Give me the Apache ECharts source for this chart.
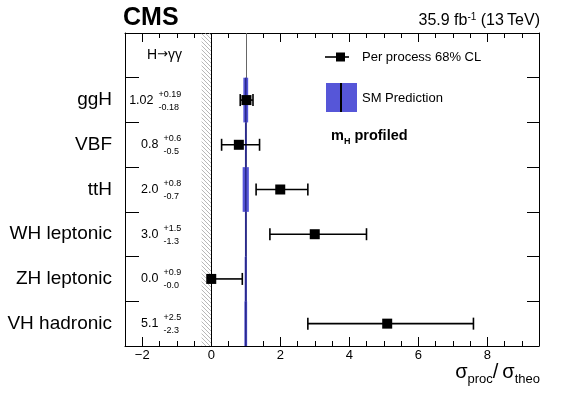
<!DOCTYPE html>
<html>
<head>
<meta charset="utf-8">
<script src="https://cdn.jsdelivr.net/npm/echarts@6/dist/echarts.min.js"></script>
<style>
  html, body { margin: 0; padding: 0; background: #fff; }
  #chart { width: 581px; height: 394px; }
</style>
</head>
<body>
<div id="chart"></div>
<script>
// data
const categories = ['ggH', 'VBF', 'ttH', 'WH leptonic', 'ZH leptonic', 'VH hadronic']
const bestFit = [1.02, 0.8, 2.0, 3.0, 0.0, 5.1]
const errUp = [0.19, 0.6, 0.8, 1.5, 0.9, 2.5]
const errDown = [0.18, 0.5, 0.7, 1.3, 0.0, 2.3]
const digits = [2, 1, 1, 1, 1, 1]
const smValue = 1
const smUnc = [0.07, 0.02, 0.09, 0.02, 0.03, 0.04]
const xMajorTicks = [-2, 0, 2, 4, 6, 8]

// first row of the y axis is the empty header row (H→γγ)
const rows = [''].concat(categories)

const FONT = '"Liberation Sans", Arial, Helvetica, sans-serif'
const BAND = '#5656d8'
const SM_LINE = '#2a2a8c'
const HATCH_FROM = -0.28
const LABEL_RIGHT = -0.87

const measureCtx = document.createElement('canvas').getContext('2d')
function textWidth(text, size) {
  measureCtx.font = size + 'px ' + FONT
  return measureCtx.measureText(text).width
}

function hatchPattern() {
  const c = document.createElement('canvas')
  c.width = 4
  c.height = 4
  const ctx = c.getContext('2d')
  ctx.strokeStyle = '#999'
  ctx.lineWidth = 0.7
  ctx.beginPath()
  ctx.moveTo(0, 0); ctx.lineTo(4, 4)
  ctx.moveTo(-1, 3); ctx.lineTo(1, 5)
  ctx.moveTo(3, -1); ctx.lineTo(5, 1)
  ctx.stroke()
  return c
}

const fmtTick = v => (v < 0 ? '\u2212' + Math.abs(v) : String(v))

const chart = echarts.init(document.getElementById('chart'))

const baseX = {
  type: 'value',
  min: -2.5,
  max: 9.5,
  splitLine: { show: false },
}
const majorTick = { show: true, inside: true, length: 9, customValues: xMajorTicks, lineStyle: { color: '#000', width: 1 } }
const minorTick = { show: true, inside: true, length: 5, lineStyle: { color: '#000', width: 1 } }

const option = {
  animation: false,
  grid: { left: 125, right: 42, top: 33, bottom: 48 },
  xAxis: [
    {
      ...baseX,
      position: 'bottom',
      axisLine: { show: true, onZero: false, lineStyle: { color: '#000', width: 1 } },
      axisTick: majorTick,
      axisLabel: {
        customValues: xMajorTicks,
        formatter: fmtTick,
        color: '#000',
        fontSize: 13,
        fontFamily: FONT,
        margin: 3,
      },
    },
    {
      ...baseX,
      position: 'bottom',
      interval: 0.5,
      axisLine: { show: false },
      axisTick: minorTick,
      axisLabel: { show: false },
    },
    {
      ...baseX,
      position: 'top',
      axisLine: { show: true, onZero: false, lineStyle: { color: '#000', width: 1 } },
      axisTick: majorTick,
      axisLabel: { show: false },
    },
    {
      ...baseX,
      position: 'top',
      interval: 0.5,
      axisLine: { show: false },
      axisTick: minorTick,
      axisLabel: { show: false },
    },
  ],
  yAxis: [
    {
      type: 'category',
      data: rows,
      inverse: true,
      position: 'left',
      axisLine: { show: true, onZero: false, lineStyle: { color: '#000', width: 1 } },
      axisTick: { show: true, inside: true, length: 14, lineStyle: { color: '#000', width: 1 } },
      axisLabel: { color: '#000', fontSize: 19, fontFamily: FONT, margin: 13 },
      splitLine: { show: false },
    },
    {
      type: 'category',
      data: rows,
      inverse: true,
      position: 'right',
      axisLine: { show: true, onZero: false, lineStyle: { color: '#000', width: 1 } },
      axisTick: { show: true, inside: true, length: 12, lineStyle: { color: '#000', width: 1 } },
      axisLabel: { show: false },
      splitLine: { show: false },
    },
  ],
  series: [
    {
      // SM prediction band per process
      name: 'SM',
      type: 'custom',
      z: 2,
      data: categories.map((c, i) => [smValue - smUnc[i], i + 1, smValue + smUnc[i]]),
      encode: { x: [0, 2], y: 1 },
      renderItem: (params, api) => {
        const h = api.size([0, 1])[1]
        const p0 = api.coord([api.value(0), api.value(1)])
        const p1 = api.coord([api.value(2), api.value(1)])
        const xc = api.coord([smValue, api.value(1)])[0]
        return {
          type: 'group',
          children: [
            { type: 'rect', shape: { x: p0[0], y: p0[1] - h / 2, width: p1[0] - p0[0], height: h }, style: { fill: BAND } },
            { type: 'line', shape: { x1: xc, y1: p0[1] - h / 2, x2: xc, y2: p0[1] + h / 2 }, style: { stroke: SM_LINE, lineWidth: 1.6 } },
          ],
        }
      },
      markLine: {
        silent: true,
        z: 1,
        symbol: 'none',
        label: { show: false },
        data: [
          { xAxis: 0, lineStyle: { color: '#000', width: 1, type: 'solid' } },
          { xAxis: smValue, lineStyle: { color: '#666', width: 1, type: 'solid' } },
        ],
      },
      markArea: {
        silent: true,
        z: 1,
        itemStyle: { color: { image: hatchPattern(), repeat: 'repeat' } },
        data: [[{ xAxis: HATCH_FROM }, { xAxis: 0 }]],
      },
    },
    {
      // 68% CL error bars
      name: 'err',
      type: 'custom',
      z: 3,
      data: categories.map((c, i) => [bestFit[i], i + 1, bestFit[i] - errDown[i], bestFit[i] + errUp[i]]),
      encode: { x: [0, 2, 3], y: 1 },
      renderItem: (params, api) => {
        const y = api.coord([api.value(0), api.value(1)])[1]
        const xl = api.coord([api.value(2), api.value(1)])[0]
        const xh = api.coord([api.value(3), api.value(1)])[0]
        const st = { stroke: '#000', lineWidth: 1.6 }
        const kids = [{ type: 'line', shape: { x1: xl, y1: y, x2: xh, y2: y }, style: st }]
        if (api.value(2) < api.value(0)) kids.push({ type: 'line', shape: { x1: xl, y1: y - 6, x2: xl, y2: y + 6 }, style: st })
        if (api.value(3) > api.value(0)) kids.push({ type: 'line', shape: { x1: xh, y1: y - 6, x2: xh, y2: y + 6 }, style: st })
        return { type: 'group', children: kids }
      },
    },
    {
      name: 'Per process 68% CL',
      type: 'scatter',
      z: 4,
      symbol: 'rect',
      symbolSize: 10,
      itemStyle: { color: '#000', opacity: 1 },
      data: categories.map((c, i) => [bestFit[i], i + 1]),
    },
    {
      // printed values  x.xx ^{+a}_{-b}
      name: 'labels',
      type: 'custom',
      z: 5,
      clip: false,
      data: categories.map((c, i) => [LABEL_RIGHT, i + 1, i]),
      encode: { x: 0, y: 1 },
      renderItem: (params, api) => {
        const i = api.value(2)
        const p = api.coord([api.value(0), api.value(1)])
        const main = bestFit[i].toFixed(digits[i])
        const up = '+' + errUp[i].toFixed(digits[i])
        const dn = '-' + errDown[i].toFixed(digits[i])
        const xs = p[0] - Math.max(textWidth(up, 9), textWidth(dn, 9))
        return {
          type: 'group',
          children: [
            { type: 'text', x: xs - 5, y: p[1], style: { text: main, fill: '#000', fontSize: 12.5, fontFamily: FONT, align: 'right', verticalAlign: 'middle' } },
            { type: 'text', x: xs, y: p[1] - 6, style: { text: up, fill: '#000', fontSize: 9, fontFamily: FONT, align: 'left', verticalAlign: 'middle' } },
            { type: 'text', x: xs, y: p[1] + 7, style: { text: dn, fill: '#000', fontSize: 9, fontFamily: FONT, align: 'left', verticalAlign: 'middle' } },
          ],
        }
      },
    },
  ],
  graphic: [
    { type: 'text', left: 123, top: 6, style: { text: 'CMS', fill: '#000', font: 'bold 25px ' + FONT } },
    {
      type: 'text', x: 540, y: 29,
      style: {
        text: '{n|35.9 fb}{s|-1}{n| (13\u2009TeV)}',
        align: 'right', verticalAlign: 'bottom',
        rich: {
          n: { fontSize: 16, lineHeight: 18, fontFamily: FONT, fill: '#000', verticalAlign: 'bottom' },
          s: { fontSize: 10, lineHeight: 10, fontFamily: FONT, fill: '#000', verticalAlign: 'bottom', padding: [0, 0, 7, 0] },
        },
      },
    },
    {
      type: 'text', x: 147, y: 55,
      style: {
        text: '{t|H}{a|\u2192}{t|\u03b3\u03b3}',
        verticalAlign: 'middle',
        rich: {
          t: { fontSize: 14, lineHeight: 16, fontFamily: FONT, fill: '#000', verticalAlign: 'middle' },
          a: { fontSize: 13, lineHeight: 16, fontFamily: '"DejaVu Sans", sans-serif', fill: '#000', verticalAlign: 'middle' },
        },
      },
    },
    // legend
    { type: 'line', shape: { x1: 325, y1: 57, x2: 349, y2: 57 }, style: { stroke: '#000', lineWidth: 1.6 } },
    { type: 'rect', shape: { x: 336, y: 52.5, width: 9, height: 9 }, style: { fill: '#000' } },
    { type: 'text', x: 362, y: 57, style: { text: 'Per process 68% CL', fill: '#000', fontSize: 13, fontFamily: FONT, verticalAlign: 'middle' } },
    { type: 'rect', shape: { x: 326, y: 83, width: 31, height: 29 }, style: { fill: BAND } },
    { type: 'line', shape: { x1: 341, y1: 83, x2: 341, y2: 112 }, style: { stroke: '#000', lineWidth: 2 } },
    { type: 'text', x: 362, y: 98, style: { text: 'SM Prediction', fill: '#000', fontSize: 13, fontFamily: FONT, verticalAlign: 'middle' } },
    {
      type: 'text', x: 331, y: 146,
      style: {
        text: '{m|m}{h|H}{m| profiled}',
        verticalAlign: 'bottom',
        rich: {
          m: { fontSize: 14.5, lineHeight: 16, fontWeight: 'bold', fontFamily: FONT, fill: '#000', verticalAlign: 'bottom', padding: [0, 0, 3, 0] },
          h: { fontSize: 9, lineHeight: 10, fontWeight: 'bold', fontFamily: FONT, fill: '#000', verticalAlign: 'bottom' },
        },
      },
    },
    // x axis title
    {
      type: 'text', x: 540, y: 386,
      style: {
        text: '{s|\u03c3}{b|proc}{s|/\u2009\u03c3}{b|theo}',
        align: 'right', verticalAlign: 'bottom',
        rich: {
          s: { fontSize: 20, lineHeight: 20, fontFamily: FONT, fill: '#000', verticalAlign: 'bottom', padding: [0, 0, 4, 0] },
          b: { fontSize: 13, lineHeight: 14, fontFamily: FONT, fill: '#000', verticalAlign: 'bottom' },
        },
      },
    },
  ],
}

chart.setOption(option)
</script>
</body>
</html>
